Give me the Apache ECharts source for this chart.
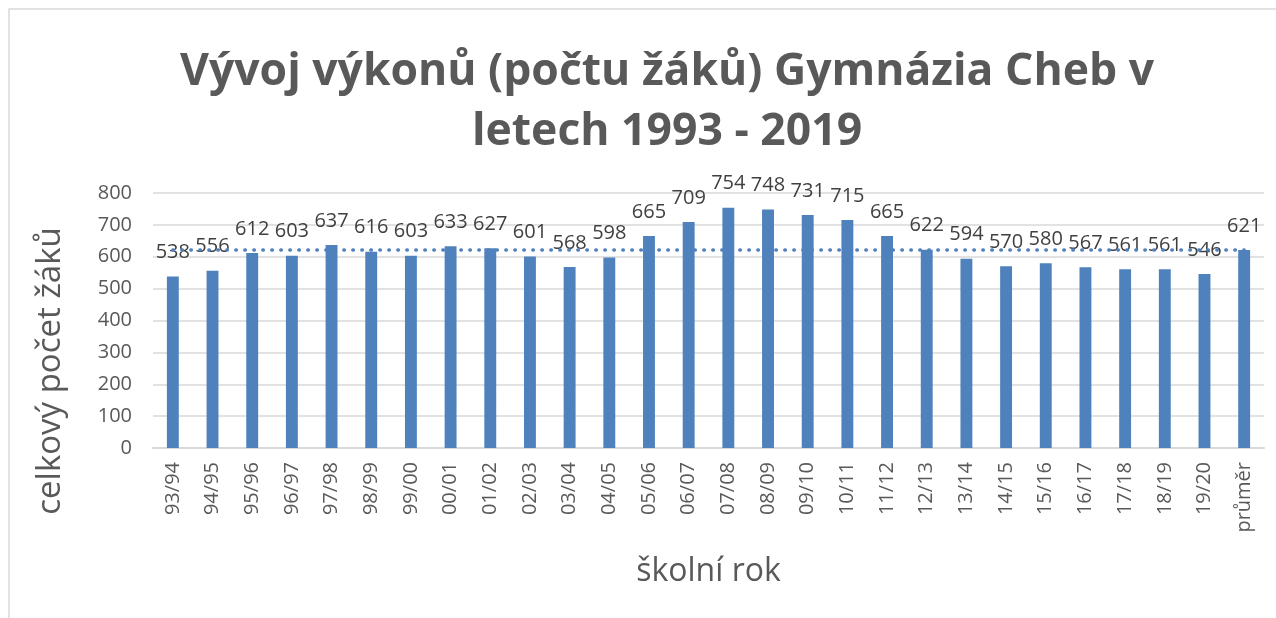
<!DOCTYPE html>
<html>
<head>
<meta charset="utf-8">
<script src="https://cdn.jsdelivr.net/npm/echarts@6/dist/echarts.min.js"></script>
<style>
  html, body { margin: 0; padding: 0; background: #fff; }
  #chart { width: 1276px; height: 618px; }
</style>
</head>
<body>
<div id="chart"></div>
<script>
// školní roky + průměr
var categories = ['93/94', '94/95', '95/96', '96/97', '97/98', '98/99', '99/00', '00/01', '01/02',
  '02/03', '03/04', '04/05', '05/06', '06/07', '07/08', '08/09', '09/10', '10/11', '11/12',
  '12/13', '13/14', '14/15', '15/16', '16/17', '17/18', '18/19', '19/20', 'průměr'];
var pocetZaku = [538, 556, 612, 603, 637, 616, 603, 633, 627, 601, 568, 598, 665, 709, 754,
  748, 731, 715, 665, 622, 594, 570, 580, 567, 561, 561, 546, 621];
var prumer = [621, 621, 621, 621, 621, 621, 621, 621, 621, 621, 621, 621, 621, 621, 621,
  621, 621, 621, 621, 621, 621, 621, 621, 621, 621, 621, 621, 621];
var yTicks = [0, 100, 200, 300, 400, 500, 600, 700, 800];

var font = '"Open Sans", "Noto Sans", sans-serif';
var chart = echarts.init(document.getElementById('chart'));

var option = {
  animation: false,
  textStyle: { fontFamily: font },
  title: {
    text: 'Vývoj výkonů (počtu žáků) Gymnázia Cheb v\nletech 1993 - 2019',
    left: 662,
    top: 37,
    textAlign: 'center',
    textStyle: {
      fontFamily: font,
      fontSize: 44.5,
      fontWeight: 'bold',
      color: '#595959',
      lineHeight: 60
    }
  },
  graphic: [
    { type: 'line', shape: { x1: 8.5, y1: 9, x2: 1276, y2: 9 }, style: { stroke: '#d9d9d9', lineWidth: 1.5 } },
    { type: 'line', shape: { x1: 9, y1: 9, x2: 9, y2: 618 }, style: { stroke: '#d9d9d9', lineWidth: 1.5 } },
    {
      type: 'text', x: 51, y: 371, rotation: Math.PI / 2,
      style: { text: 'celkový počet žáků', font: '33px ' + font, fill: '#595959', textAlign: 'center', textVerticalAlign: 'middle' }
    }
  ],
  grid: { left: 153, right: 12, top: 193, bottom: 170 },
  xAxis: {
    type: 'category',
    data: categories,
    name: 'školní rok',
    nameLocation: 'middle',
    nameGap: 108,
    nameTextStyle: { fontSize: 32, color: '#595959', fontFamily: font },
    axisLine: { lineStyle: { color: '#d9d9d9', width: 2 } },
    axisTick: { show: false },
    axisLabel: { rotate: 90, fontSize: 20, color: '#595959', margin: 14, interval: 0 }
  },
  yAxis: {
    type: 'value',
    min: yTicks[0],
    max: yTicks[yTicks.length - 1],
    interval: 100,
    axisLine: { show: false },
    axisTick: { show: false },
    axisLabel: { fontSize: 20, color: '#595959', margin: 21 },
    splitLine: { lineStyle: { color: '#d9d9d9', width: 1.5 } }
  },
  series: [
    {
      name: 'počet žáků',
      type: 'bar',
      data: pocetZaku,
      barWidth: '30%',
      itemStyle: { color: '#4f81bd' },
      label: {
        show: true,
        position: 'top',
        distance: 14,
        fontSize: 20,
        color: '#404040'
      }
    },
    {
      name: 'průměr',
      type: 'line',
      data: prumer,
      symbol: 'none',
      lineStyle: { color: '#4f81bd', width: 3.5, type: [0.5, 8.5], cap: 'round' },
      z: 3
    }
  ]
};
chart.setOption(option);
</script>
</body>
</html>
